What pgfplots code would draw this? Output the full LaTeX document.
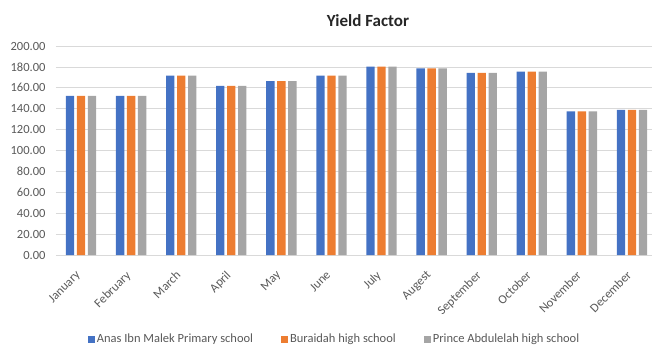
\documentclass[border=0pt]{standalone}
\usepackage{fontspec}
\setmainfont{Carlito}
\usepackage{pgfplots}
\pgfplotsset{compat=1.18}

\definecolor{sBlue}{HTML}{4472C4}
\definecolor{sOrange}{HTML}{ED7D31}
\definecolor{sGray}{HTML}{A5A5A5}
\definecolor{txt}{HTML}{595959}
\definecolor{gridc}{HTML}{D9D9D9}

\begin{document}
\begin{tikzpicture}
\begin{axis}[
  name=ax,
  scale only axis,
  width=596bp, height=209bp,
  ybar=2.7bp, bar width=8.3bp,
  xmin=-0.5, xmax=11.4,
  ymin=0, ymax=200,
  ytick={0,20,...,200},
  xtick={0,...,11},
  xticklabels={January,February,March,April,May,June,July,Augest,September,October,November,December},
  axis line style={draw=none},
  major tick length=0pt,
  ymajorgrids, major grid style={gridc, line width=0.8bp},
  /pgf/number format/assume math mode=true,
  yticklabel={\pgfmathprintnumber[fixed,fixed zerofill,precision=2]{\tick}},
  ticklabel style={font=\fontsize{12.5bp}{14bp}\selectfont, text=txt},
  yticklabel style={xshift=-7bp},
  xticklabel style={xshift=-6bp, yshift=-10bp, rotate=45, anchor=north east},
  title={Yield Factor},
  title style={font=\fontsize{17bp}{19bp}\selectfont\bfseries, text=black!85, at={(0.5235,1)}, anchor=center, yshift=19bp},
  legend columns=3,
  legend style={at={(0.4673,-0.402)}, anchor=center, draw=none,
    font=\fontsize{12.5bp}{14bp}\selectfont, text=txt,
    /tikz/every even column/.append style={column sep=26bp}},
  legend image code/.code={\fill[#1] (0bp,-3.5bp) rectangle (7bp,3.5bp);},
  every axis plot/.append style={draw=none},
]
% monthly yield factor of each school
\addplot[fill=sBlue] coordinates {(0,152.2) (1,152.2) (2,171.7) (3,161.8) (4,166.5) (5,171.7) (6,180.2) (7,178.6) (8,174.2) (9,175.4) (10,137.5) (11,138.8)};
\addplot[fill=sOrange] coordinates {(0,152.2) (1,152.2) (2,171.7) (3,161.8) (4,166.5) (5,171.7) (6,180.2) (7,178.6) (8,174.2) (9,175.4) (10,137.5) (11,138.8)};
\addplot[fill=sGray] coordinates {(0,152.2) (1,152.2) (2,171.7) (3,161.8) (4,166.5) (5,171.7) (6,180.2) (7,178.6) (8,174.2) (9,175.4) (10,137.5) (11,138.8)};
\legend{Anas Ibn Malek Primary school, Buraidah high school, Prince Abdulelah high school}
\end{axis}
\pgfresetboundingbox
\path[use as bounding box] ([xshift=-56bp,yshift=-94bp]ax.south west) rectangle ([yshift=46bp]ax.north east);
\end{tikzpicture}
\end{document}
